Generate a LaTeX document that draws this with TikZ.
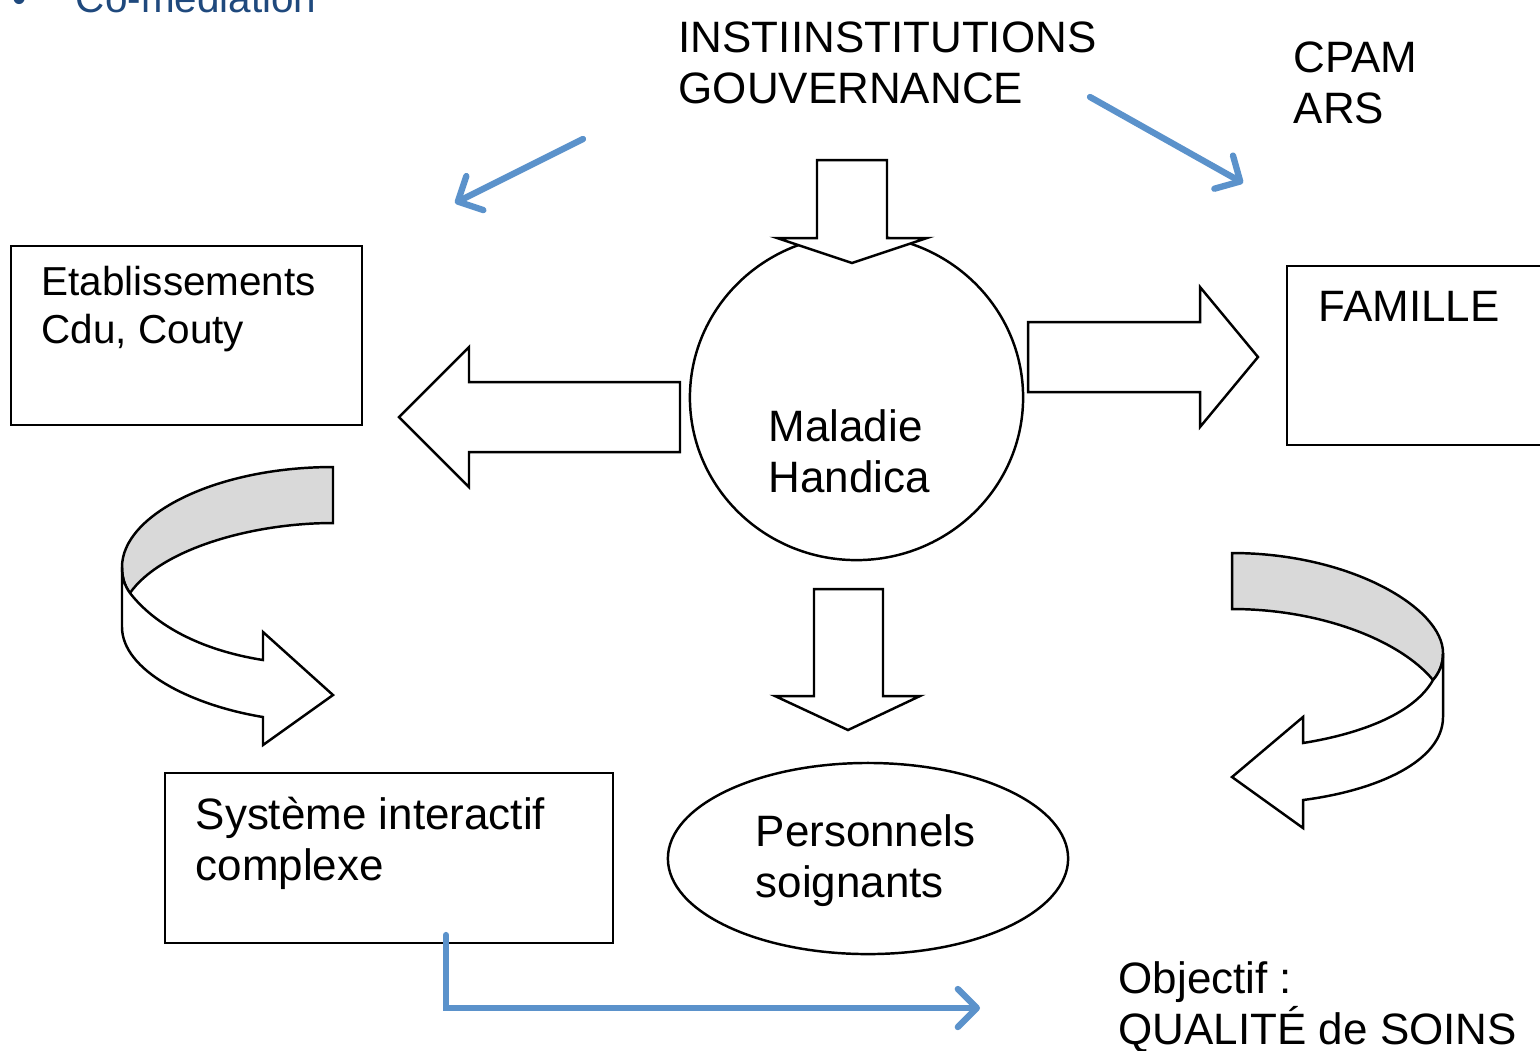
\documentclass[tikz,border=0pt]{standalone}
\usepackage{fontspec}
\setmainfont{Liberation Sans}
\usetikzlibrary{arrows.meta,shapes.geometric}
\definecolor{bleufleche}{RGB}{91,146,203}
\definecolor{bleutitre}{RGB}{31,73,125}
\definecolor{grisruban}{RGB}{217,217,217}
\tikzset{
	txt/.style={anchor=base west,align=left,inner sep=0pt,font=\fontsize{12.5}{14.5}\selectfont},
	petit/.style={txt,font=\fontsize{11.5}{13.4}\selectfont},
	cadre/.style={draw,line width=0.7pt,inner sep=0pt},
	bloc/.style={draw,fill=white,line width=0.7pt},
	ruban/.style={draw,fill=grisruban,line width=0.7pt},
	bleu/.style={draw=bleufleche,line width=1.8pt,line cap=round,-{Straight Barb[length=1.9mm,width=3.8mm,round]}},
}
\begin{document}
\begin{tikzpicture}[x=0.01cm,y=-0.01cm]
	\useasboundingbox (0,0) rectangle (1540,1050);
	\node[petit,text=bleutitre] (comed) at (12,12) {•\hspace{0.49cm}Co-médiation};
	\node[txt] (instit) at (678,103) {INSTIINSTITUTIONS\\GOUVERNANCE};
	\node[txt] (cpam) at (1293,123) {CPAM\\ARS};
	% cadres et cercles
	\node[cadre,minimum width=3.51cm,minimum height=1.79cm] (etab) at (186.5,335.5) {};
	\node[cadre,minimum width=3.53cm,minimum height=1.79cm] (famille) at (1463.5,355.5) {};
	\node[cadre,minimum width=4.48cm,minimum height=1.7cm] (systeme) at (389,858) {};
	\node[cadre,ellipse,minimum width=3.33cm,minimum height=3.25cm] (maladie) at (856.5,397.5) {};
	\node[cadre,ellipse,minimum width=4cm,minimum height=1.91cm] (perso) at (868,858.5) {};
	\node[petit] (etabtxt) at (41,343) {Etablissements\\Cdu, Couty};
	\node[txt] (famtxt) at (1318,321) {FAMILLE};
	\node[txt] (maltxt) at (768,492) {Maladie\\Handica};
	\node[txt] (systxt) at (195,880) {Système interactif\\complexe};
	\node[txt] (persotxt) at (755,897) {Personnels\\soignants};
	\node[txt] (objtxt) at (1118,1044) {Objectif :\\QUALITÉ de SOINS};
	% grosses fleches
	\draw[bloc] (817,160)--(887,160)--(887,238)--(927,238)--(852,263)--(777,238)--(817,238)--cycle;
	\draw[bloc] (680,382)--(469,382)--(469,347)--(399,417)--(469,487)--(469,452)--(680,452)--cycle;
	\draw[bloc] (1028,322)--(1200,322)--(1200,287)--(1258,357)--(1200,427)--(1200,392)--(1028,392)--cycle;
	\draw[bloc] (814,589)--(883,589)--(883,696)--(920,696)--(848,730)--(775,696)--(814,696)--cycle;
	% ruban gauche
	\draw[ruban] (333,467)--(333,523) .. controls (250,523) and (160,550) .. (130,593) .. controls (124,585) and (122,576) .. (122,567) .. controls (122,515) and (215,467) .. (333,467)--cycle;
	\draw[bloc] (122,567)--(122,627) .. controls (122,670) and (190,705) .. (263,717)--(263,745)--(333,695)--(263,632)--(263,660) .. controls (200,650) and (155,625) .. (130,593) .. controls (124,585) and (122,576) .. (122,567)--cycle;
	% ruban droit
	\draw[ruban] (1232,553)--(1232,609) .. controls (1320,609) and (1400,640) .. (1433,680) .. controls (1440,672) and (1443,663) .. (1443,653) .. controls (1443,608) and (1350,553) .. (1232,553)--cycle;
	\draw[bloc] (1443,653)--(1443,717) .. controls (1443,760) and (1380,790) .. (1303,800)--(1303,828)--(1232,777)--(1303,717)--(1303,743) .. controls (1365,733) and (1415,712) .. (1433,680) .. controls (1440,672) and (1443,663) .. (1443,653)--cycle;
	% fleches bleues
	\coordinate (g1) at (583,139);
	\coordinate (g2) at (455,203);
	\coordinate (d1) at (1090,97);
	\coordinate (d2) at (1243,183);
	\coordinate (s1) at (446,935);
	\coordinate (s2) at (980,1008);
	\draw[bleu] (g1)--(g2);
	\draw[bleu] (d1)--(d2);
	\draw[bleu,line join=miter] (s1) |- (s2);
\end{tikzpicture}
\end{document}
